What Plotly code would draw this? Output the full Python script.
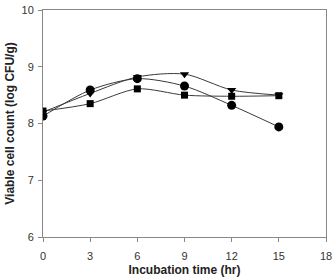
import plotly.graph_objects as go

time_hr = [0, 3, 6, 9, 12, 15]
series_circle = [8.13, 8.59, 8.79, 8.66, 8.32, 7.94]
series_triangle = [8.20, 8.53, 8.82, 8.87, 8.59, 8.50]
series_square = [8.22, 8.35, 8.61, 8.50, 8.48, 8.49]

x_ticks = [0, 3, 6, 9, 12, 15, 18]
y_ticks = [6, 7, 8, 9, 10]

fig = go.Figure()
for vals, sym, size in [(series_square, "square", 7), (series_triangle, "triangle-down", 8), (series_circle, "circle", 9)]:
    fig.add_trace(go.Scatter(
        x=time_hr, y=vals, mode="lines+markers",
        line=dict(color="#3a3a3a", width=1, shape="spline", smoothing=0.8),
        marker=dict(symbol=sym, size=size, color="black"),
        showlegend=False,
    ))

axis_common = dict(
    showline=True, linecolor="#888888", linewidth=1, mirror=True,
    ticks="outside", ticklen=4, tickcolor="#888888",
    showgrid=False, zeroline=False, automargin=False,
    tickfont=dict(family="Liberation Sans, Arial", size=11, color="#333333"),
)
fig.update_xaxes(range=[0, 18], tickvals=x_ticks, ticklabelstandoff=5,
                 title=dict(text="<b>Incubation time (hr)</b>", standoff=14,
                            font=dict(family="Liberation Sans, Arial", size=12, color="#222222")),
                 **axis_common)
fig.update_yaxes(range=[6, 10], tickvals=y_ticks, ticklabelstandoff=2,
                 title=dict(text="<b>Viable cell count (log CFU/g)</b>", standoff=4,
                            font=dict(family="Liberation Sans, Arial", size=12, color="#222222")),
                 **axis_common)
fig.update_layout(
    width=335, height=277,
    margin=dict(l=43, r=9, t=10, b=40),
    plot_bgcolor="white", paper_bgcolor="white",
)
fig.write_html("out.html")
